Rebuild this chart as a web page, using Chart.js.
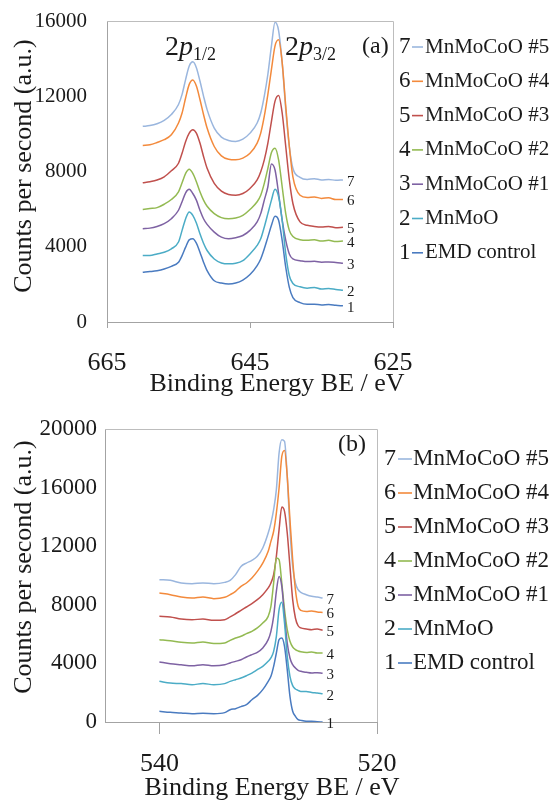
<!DOCTYPE html>
<html>
<head>
<meta charset="utf-8">
<script src="https://cdn.jsdelivr.net/npm/chart.js@4.4.1/dist/chart.umd.min.js"></script>
<style>
  html, body { margin: 0; padding: 0; background: #fff; }
  canvas { display: block; }
</style>
</head>
<body>
<canvas id="mn2p" width="554" height="400"></canvas>
<canvas id="o1s" width="554" height="403"></canvas>
<script>
// samples, bottom (1) to top (7)
const sampleNames = ['EMD control', 'MnMoO', 'MnMoCoO #1', 'MnMoCoO #2', 'MnMoCoO #3', 'MnMoCoO #4', 'MnMoCoO #5'];
const lineColors = ['#4A7BC0', '#4BACC6', '#7E62A3', '#93BA52', '#C0504D', '#F38A3C', '#9AB6DE'];

// (a) Mn 2p region, binding energy in eV
const mnBE = [660, 659, 658, 657, 656, 655, 654.5, 654, 653.5, 653, 652.5, 652, 651.5, 651, 650, 649, 648, 647, 646, 645,
  644, 643.5, 643, 642.5, 642, 641.5, 641, 640.5, 640, 639.5, 639, 638, 637, 636, 635, 634, 633, 632];
const mnEMD = [2640, 2680, 2730, 2820, 2960, 3180, 3530, 3980, 4370, 4420, 4190, 3710, 3180, 2730, 2190, 2070, 2020, 2070, 2230, 2520,
  3000, 3350, 3890, 4510, 5140, 5620, 5410, 4340, 2910, 1840, 1300, 1030, 945, 945, 910, 930, 890, 860];
const mnMnMoO = [3530, 3530, 3620, 3710, 3890, 4250, 4870, 5490, 5850, 5670, 5260, 4690, 4190, 3800, 3350, 3140, 3090, 3120, 3260, 3620,
  4070, 4420, 5050, 5760, 6480, 7050, 6650, 5410, 3620, 2460, 2050, 1870, 1800, 1840, 1750, 1780, 1730, 1690];
const mnCo1 = [4960, 4990, 5080, 5230, 5490, 5940, 6390, 6870, 7050, 6830, 6480, 5940, 5490, 5190, 4780, 4510, 4420, 4480, 4600, 4870,
  5320, 5760, 6480, 7190, 8400, 8080, 6830, 5410, 4340, 3620, 3350, 3260, 3210, 3230, 3180, 3190, 3160, 3120];
const mnCo2 = [5980, 6030, 6080, 6260, 6510, 6920, 7400, 7900, 8120, 7900, 7460, 6920, 6480, 6150, 5760, 5550, 5490, 5530, 5670, 5980,
  6390, 6740, 7370, 8170, 9010, 9240, 8620, 7190, 5760, 4870, 4550, 4370, 4340, 4370, 4300, 4340, 4280, 4300];
const mnCo3 = [7400, 7460, 7550, 7720, 8040, 8440, 8970, 9600, 10040, 10220, 10040, 9510, 8800, 8170, 7370, 6960, 6780, 6740, 6830, 7100,
  7550, 7990, 8620, 9510, 10670, 11740, 12040, 11110, 9330, 7550, 6300, 5320, 5140, 5080, 5050, 5080, 5010, 5030];
const mnCo4 = [9380, 9420, 9540, 9690, 9950, 10580, 11110, 11920, 12630, 12860, 12540, 11830, 11030, 10310, 9330, 8830, 8650, 8620, 8710, 8970,
  9510, 10040, 10940, 12100, 13430, 14680, 15000, 13790, 11470, 9330, 7720, 6740, 6620, 6650, 6570, 6600, 6510, 6510];
const mnCo5 = [10400, 10440, 10540, 10720, 11030, 11560, 12100, 12900, 13610, 13830, 13520, 12810, 12010, 11290, 10310, 9830, 9650, 9600, 9720, 10040,
  10580, 11110, 12010, 13170, 14680, 15930, 15490, 13790, 11290, 9330, 8170, 7690, 7580, 7620, 7550, 7580, 7530, 7550];
const mnCounts = [mnEMD, mnMnMoO, mnCo1, mnCo2, mnCo3, mnCo4, mnCo5];
const mnTicksX = [665, 645, 625];

// (b) O 1s region, binding energy in eV
const oBE = [540, 539, 538, 537, 536, 535, 534, 533.5, 533, 532.5, 532, 531.5, 531, 530.5, 530, 529.75, 529.5, 529.25, 529, 528.75,
  528.5, 528.25, 528, 527.75, 527.5, 527.25, 527, 526.5, 526, 525.5, 525];
const oEMD = [730, 660, 620, 560, 590, 570, 640, 840, 910, 1050, 1180, 1520, 1800, 2210, 2780, 3120, 3800, 4710, 5620, 5730,
  5160, 3570, 1750, 730, 390, 160, 110, 50, 50, 20, 0];
const oMnMoO = [2775, 2660, 2620, 2550, 2620, 2550, 2620, 2775, 2890, 3000, 3160, 3340, 3570, 3800, 4140, 4370, 4820, 5850, 7670, 8170,
  6760, 4480, 3120, 2480, 2250, 2160, 2090, 2090, 2020, 1980, 1930];
const oCo1 = [4100, 3980, 3910, 3840, 3910, 3840, 3910, 4030, 4140, 4250, 4440, 4600, 4750, 5050, 5620, 6190, 7210, 8920, 9940, 9260,
  7210, 5390, 4370, 3910, 3690, 3530, 3460, 3390, 3340, 3370, 3320];
const oCo2 = [5620, 5550, 5440, 5390, 5460, 5350, 5390, 5570, 5730, 5850, 6030, 6190, 6420, 6760, 7210, 7890, 9490, 11190, 11080, 9490,
  7670, 6300, 5510, 5120, 4940, 4850, 4800, 4750, 4780, 4710, 4710];
const oCo3 = [7210, 7170, 7030, 6980, 7030, 6940, 6980, 7170, 7390, 7620, 7850, 8080, 8350, 8690, 9150, 9490, 10060, 11310, 13130, 14670,
  14380, 12900, 10620, 8350, 7100, 6570, 6420, 6350, 6300, 6350, 6260];
const oCo4 = [8800, 8690, 8530, 8460, 8530, 8420, 8510, 8690, 8920, 9260, 9490, 9830, 10280, 10850, 11650, 12330, 13020, 14260, 15970, 18130,
  18540, 16770, 13810, 11080, 9030, 7900, 7620, 7550, 7580, 7510, 7480];
const oCo5 = [9710, 9670, 9490, 9440, 9490, 9440, 9530, 9670, 10060, 10620, 10850, 11030, 11310, 11880, 12900, 13580, 14490, 15860, 18360, 19270,
  19160, 16770, 13130, 10620, 9490, 9030, 8850, 8690, 8580, 8530, 8460];
const oCounts = [oEMD, oMnMoO, oCo1, oCo2, oCo3, oCo4, oCo5];
const oTicksX = [540, 520];

Chart.defaults.font.family = '"Liberation Serif", "Times New Roman", serif';
Chart.defaults.color = '#1a1a1a';

const AXIS_GREY = '#a3a3a3';

// frame, axis titles, peak names, curve numbers and the numbered legend
const decor = {
  id: 'decor',
  afterDraw(chart, args, o) {
    const { ctx, chartArea: a } = chart;
    ctx.save();
    ctx.strokeStyle = '#bdbdbd';
    ctx.lineWidth = 1;
    ctx.beginPath();
    ctx.moveTo(a.left, a.top + 0.5);
    ctx.lineTo(a.right + 0.5, a.top + 0.5);
    ctx.lineTo(a.right + 0.5, a.bottom);
    ctx.stroke();

    ctx.fillStyle = '#1a1a1a';
    ctx.textBaseline = 'alphabetic';
    ctx.textAlign = 'center';
    ctx.font = '26px "Liberation Serif"';
    ctx.fillText('Binding Energy BE / eV', o.xTitle[0], o.xTitle[1]);
    ctx.save();
    ctx.translate(o.yTitle[0], o.yTitle[1]);
    ctx.rotate(-Math.PI / 2);
    ctx.font = '26px "Liberation Serif"';
    ctx.textBaseline = 'middle';
    ctx.fillText('Counts per second (a.u.)', 0, 0);
    ctx.restore();

    ctx.textAlign = 'left';
    ctx.font = '24px "Liberation Serif"';
    ctx.textBaseline = 'middle';
    ctx.fillText(o.panel, o.panelPos[0], o.panelPos[1]);

    (o.peaks || []).forEach(p => {
      ctx.textBaseline = 'alphabetic';
      ctx.font = '28px "Liberation Serif"';
      ctx.fillText('2', p.x, p.y);
      let w = ctx.measureText('2').width;
      ctx.font = 'italic 28px "Liberation Serif"';
      ctx.fillText('p', p.x + w, p.y);
      w += ctx.measureText('p').width;
      ctx.font = '18px "Liberation Serif"';
      ctx.fillText(p.sub, p.x + w, p.y + 5);
    });

    // numbers at the right end of each curve
    ctx.font = '15px "Liberation Serif"';
    ctx.textBaseline = 'middle';
    chart.data.datasets.forEach((ds, i) => {
      const pts = chart.getDatasetMeta(i).data;
      const last = pts[pts.length - 1];
      ctx.fillText(String(i + 1), last.x + 4, last.y + 2);
    });

    // legend, 7 on top
    const L = o.legend;
    for (let i = sampleNames.length - 1; i >= 0; i--) {
      const yy = L.top + (sampleNames.length - 1 - i) * L.step;
      ctx.font = L.numFont;
      ctx.fillStyle = '#1a1a1a';
      ctx.fillText(String(i + 1), L.numX, yy);
      ctx.strokeStyle = lineColors[i];
      ctx.lineWidth = 1.6;
      ctx.beginPath();
      ctx.moveTo(L.lineX[0], yy);
      ctx.lineTo(L.lineX[1], yy);
      ctx.stroke();
      ctx.font = L.textFont;
      ctx.fillText(sampleNames[i], L.textX, yy);
    }
    ctx.restore();
  }
};

function makeChart(id, be, counts, cfg) {
  return new Chart(document.getElementById(id), {
    type: 'line',
    data: {
      datasets: counts.map((arr, i) => ({
        label: sampleNames[i],
        data: arr.map((v, k) => ({ x: be[k], y: v })),
        borderColor: lineColors[i],
        borderWidth: 1.5,
        pointRadius: 0,
        cubicInterpolationMode: 'monotone',
        fill: false
      }))
    },
    options: {
      responsive: false,
      animation: false,
      layout: { padding: cfg.padding },
      plugins: {
        legend: { display: false },
        tooltip: { enabled: false },
        decor: cfg.decor
      },
      scales: {
        x: {
          type: 'linear',
          reverse: true,
          min: cfg.xMin,
          max: cfg.xMax,
          afterBuildTicks: s => { s.ticks = cfg.xTicks.map(v => ({ value: v })); },
          afterFit: s => { s.height = cfg.xHeight; },
          border: { display: true, color: AXIS_GREY, width: 1 },
          grid: { display: true, drawOnChartArea: false, drawTicks: true, tickLength: cfg.tickLen, color: AXIS_GREY },
          ticks: { font: { size: 26 }, padding: cfg.xPad, maxRotation: 0, callback: v => String(v) }
        },
        y: {
          min: 0,
          max: cfg.yMax,
          ticks: { stepSize: 4000, font: { size: cfg.yFont }, padding: cfg.yPad, callback: v => String(v) },
          afterFit: s => { s.width = cfg.yWidth; s.paddingTop = 0; s.paddingBottom = 0; },
          border: { display: true, color: AXIS_GREY, width: 1 },
          grid: { display: false, drawTicks: false }
        }
      }
    },
    plugins: [decor]
  });
}

makeChart('mn2p', mnBE, mnCounts, {
  padding: { top: 21, right: 161, left: 0, bottom: 0 },
  xMin: 625, xMax: 665, xTicks: mnTicksX, xHeight: 78, tickLen: 6, xPad: 20,
  yMax: 16000, yFont: 21, yPad: 20, yWidth: 107,
  decor: {
    xTitle: [277, 391], yTitle: [24, 166], panel: '(a)', panelPos: [362, 47],
    peaks: [{ x: 165, y: 55, sub: '1/2' }, { x: 285, y: 55, sub: '3/2' }],
    legend: { top: 47, step: 34.3, numX: 399, lineX: [412, 423], textX: 425,
              numFont: '23px "Liberation Serif"', textFont: '21px "Liberation Serif"' }
  }
});

makeChart('o1s', oBE, oCounts, {
  padding: { top: 29, right: 177, left: 0, bottom: 0 },
  xMin: 520, xMax: 545, xTicks: oTicksX, xHeight: 81, tickLen: 12, xPad: 15,
  yMax: 20000, yFont: 23, yPad: 8, yWidth: 105,
  decor: {
    xTitle: [272, 395], yTitle: [24, 167], panel: '(b)', panelPos: [338, 45],
    legend: { top: 59, step: 34, numX: 384, lineX: [398, 412], textX: 413,
              numFont: '24px "Liberation Serif"', textFont: '23px "Liberation Serif"' }
  }
});
</script>
</body>
</html>
